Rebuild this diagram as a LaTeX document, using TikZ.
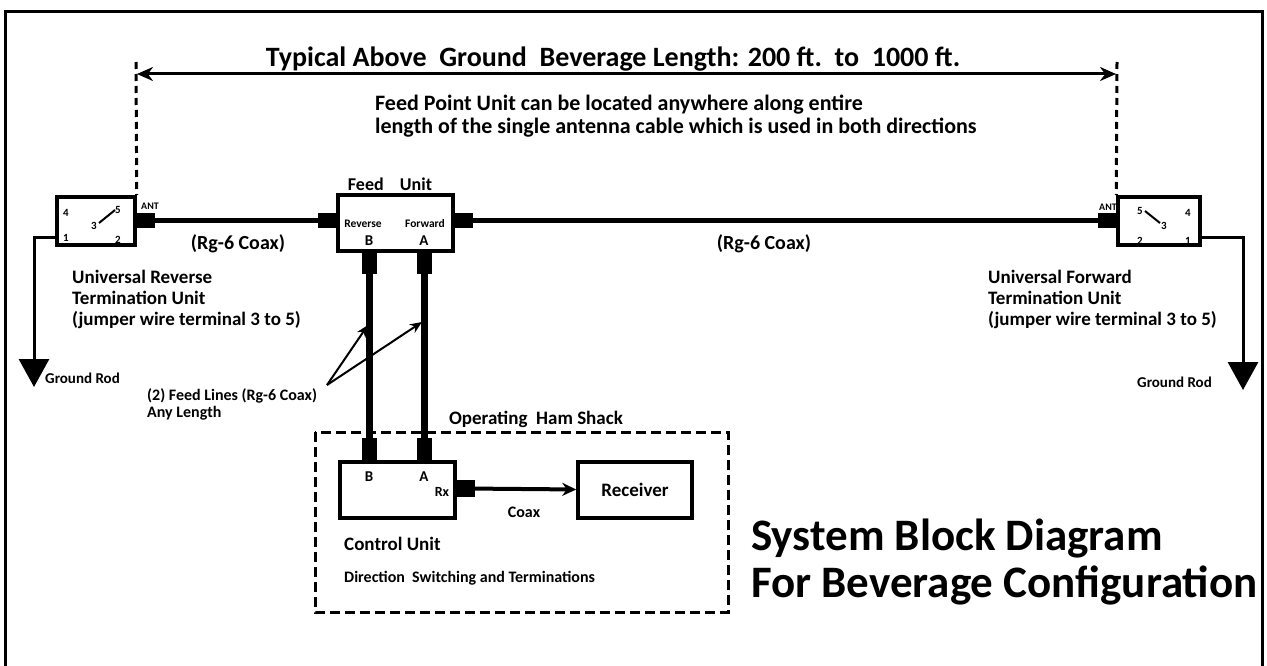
\documentclass[tikz,border=0pt]{standalone}
\usepackage{fontspec}
\setmainfont{Carlito}
\usetikzlibrary{arrows.meta}
\newcommand{\fs}[2]{\fontsize{#1}{#2}\selectfont\bfseries}

\begin{document}
\begin{tikzpicture}[x=1pt, y=-1pt]
    \useasboundingbox (0,0) rectangle (1267,666);
    \draw[line width=3pt] (5,666) -- (5,12) -- (1262,12) -- (1262,666);
        \begin{scope}
            \tikzstyle{every node}=[draw=black, line width=3.5pt, inner sep=0pt, minimum height=48pt]
            \node[minimum width=78pt] (lterm) at (96,221) {};
            \node[minimum width=115pt, minimum height=56pt] (feed) at (395.5,223) {};
            \node[minimum width=82pt] (rterm) at (1159,221) {};
            \node[minimum width=115pt, minimum height=56pt] (ctrl) at (397.5,490) {};
            \node[minimum width=114pt, minimum height=56pt, font=\fs{19}{22}] (recv) at (635,490) {Receiver};
        \end{scope}
        \begin{scope}
            \tikzstyle{every node}=[fill=black, inner sep=0pt, minimum width=20pt, minimum height=15pt]
            \node (lplug) at (145,220.5) {};
            \node (fplugL) at (328,220.5) {};
            \node (fplugR) at (463,220.5) {};
            \node (rplug) at (1108,220.5) {};
            \node[minimum width=15pt, minimum height=23pt] (fplugB) at (369.5,262) {};
            \node[minimum width=15pt, minimum height=23pt] (fplugA) at (424.5,262) {};
            \node[minimum width=15pt, minimum height=24pt] (cplugB) at (369.5,450) {};
            \node[minimum width=15pt, minimum height=24pt] (cplugA) at (424.5,450) {};
            \node[minimum height=17pt] (rxplug) at (465,488.5) {};
        \end{scope}
        \coordinate (dimL) at (137,74);
        \coordinate (dimR) at (1116,74);
        \coordinate (dimLtop) at (136,62);
        \coordinate (dimRtop) at (1117,62);
        \coordinate (lgnd) at (34,387);
        \coordinate (rgnd) at (1243,390);
        \coordinate (apex) at (327,385);
        \coordinate (tipB) at (368,325);
        \coordinate (tipA) at (422,322);
        \begin{scope}
            \tikzstyle{every edge}=[draw, line width=5pt]
            \path
            (lplug) edge[] (fplugL)
            (fplugR) edge[] (rplug)
            (fplugB) edge[line width=7pt] (cplugB)
            (fplugA) edge[line width=7pt] (cplugA)
            (rxplug) edge[line width=4pt, -{Stealth[length=14pt, width=13pt]}] (recv);
        \end{scope}
        \draw[line width=3pt, {Stealth[length=16pt, width=14pt]}-{Stealth[length=16pt, width=14pt]}] (dimL) -- (dimR);
        \draw[line width=3pt, dash pattern=on 7pt off 5pt] (dimLtop) -- (lterm.north east);
        \draw[line width=3pt, dash pattern=on 7pt off 5pt] (dimRtop) -- (rterm.north west);
        \draw[line width=3pt, -{Triangle[length=28pt, width=30pt]}] ([yshift=-16pt]lterm.west) -| (lgnd);
        \draw[line width=3pt, -{Triangle[length=28pt, width=30pt]}] ([yshift=-16pt]rterm.east) -| (rgnd);
        \draw[line width=2pt, -{Stealth[length=12pt, width=10pt]}] (apex) -- (tipB);
        \draw[line width=2pt, -{Stealth[length=12pt, width=10pt]}] (apex) -- (tipA);
        \draw[line width=2pt] (99,223) -- (115,210);
        \draw[line width=2pt] (1145,211) -- (1160,223);
        \draw[line width=3pt, dash pattern=on 10pt off 5pt] (315,432) rectangle (728,612);
        % texts
        \node[font=\fs{28}{32}] (title) at (613,59) {Typical Above\ \ Ground\ \ Beverage Length: 200 ft.\ \ to\ \ 1000 ft.};
        \node[font=\fs{22}{23}, align=left, anchor=base west, inner sep=0pt] (note) at (375,134) {Feed Point Unit can be located anywhere along entire\\length of the single antenna cable which is used in both directions};
        \node[font=\fs{18}{20}] (feedlbl) at (390,184) {Feed\ \ \ \ Unit};
        \begin{scope}
            \tikzstyle{every node}=[inner sep=0pt, font=\fs{10}{11}]
            \node[font=\fs{11.5}{12}] (rev) at (363,224) {Reverse};
            \node[font=\fs{11.5}{12}] (fwd) at (425,224) {Forward};
            \node (lant) at (150,206) {ANT};
            \node (rant) at (1108,207) {ANT};
            \node[font=\fs{11}{12}] (l4) at (66,213) {4};
            \node[font=\fs{11}{12}] (l5) at (118,210) {5};
            \node[font=\fs{11}{12}] (l3) at (94,226) {3};
            \node[font=\fs{11}{12}] (l1) at (66,238) {1};
            \node[font=\fs{11}{12}] (l2) at (118,240) {2};
            \node[font=\fs{11}{12}] (r5) at (1140,211) {5};
            \node[font=\fs{11}{12}] (r4) at (1188,213) {4};
            \node[font=\fs{11}{12}] (r3) at (1164,226) {3};
            \node[font=\fs{11}{12}] (r2) at (1140,241) {2};
            \node[font=\fs{11}{12}] (r1) at (1188,241) {1};
            \node[font=\fs{15}{16}] (fB) at (369,241) {B};
            \node[font=\fs{15}{16}] (fA) at (424,241) {A};
            \node[font=\fs{15}{16}] (cB) at (369,477) {B};
            \node[font=\fs{15}{16}] (cA) at (424,477) {A};
            \node[font=\fs{14}{15}] (rx) at (442,492) {Rx};
        \end{scope}
        \node[font=\fs{20}{22}] (lcoax) at (238,244) {(Rg-6 Coax)};
        \node[font=\fs{20}{22}] (rcoax) at (764,244) {(Rg-6 Coax)};
        \node[font=\fs{19}{21}, align=left, anchor=base west, inner sep=0pt] (ltlbl) at (72,325) {Universal Reverse\\Termination Unit\\(jumper wire terminal 3 to 5)};
        \node[font=\fs{19}{21}, align=left, anchor=base west, inner sep=0pt] (rtlbl) at (988,325) {Universal Forward\\Termination Unit\\(jumper wire terminal 3 to 5)};
        \node[font=\fs{15}{17}, anchor=west, inner sep=0pt] (lrod) at (45,378) {Ground Rod};
        \node[font=\fs{15}{17}, anchor=west, inner sep=0pt] (rrod) at (1137,382) {Ground Rod};
        \node[font=\fs{16}{17}, align=left, anchor=base west, inner sep=0pt] (flbl) at (147,417) {(2) Feed Lines (Rg-6 Coax)\\Any Length};
        \node[font=\fs{19}{21}] (shack) at (536,419) {Operating\ \ Ham Shack};
        \node[font=\fs{16}{18}] (coax) at (524,512) {Coax};
        \node[font=\fs{19}{21}, anchor=west, inner sep=0pt] (ctrllbl) at (344,544) {Control Unit};
        \node[font=\fs{16}{18}, anchor=west, inner sep=0pt] (dirlbl) at (344,578) {Direction\ \ Switching and Terminations};
        \node[font=\fs{45}{47}, align=left, anchor=west, inner sep=0pt] (sys) at (751,562) {System Block Diagram\\For Beverage Configuration};
    \end{tikzpicture}
\end{document}
